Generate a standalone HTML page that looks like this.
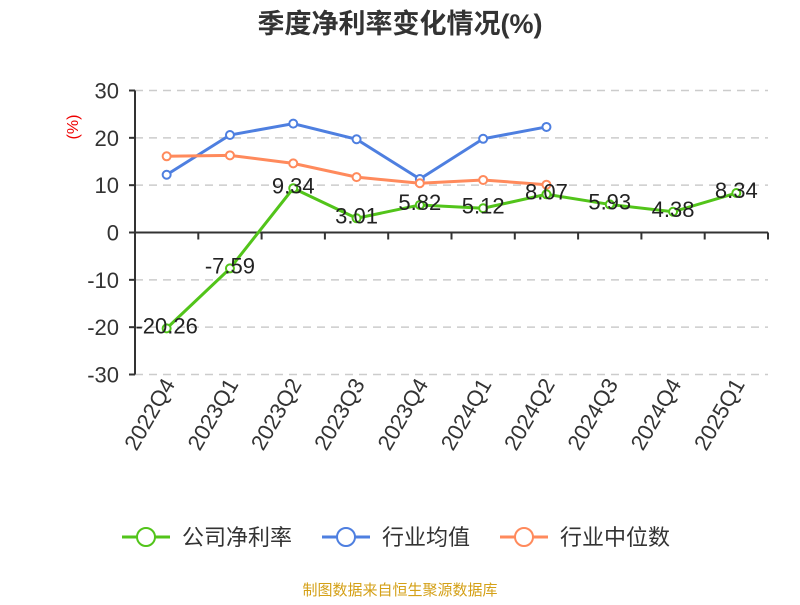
<!DOCTYPE html>
<html><head><meta charset="utf-8"><style>
body{margin:0;background:#fff;}
svg text{font-family:"Liberation Sans","Noto Sans CJK SC",sans-serif;}
</style></head><body>
<svg id="chart" width="800" height="600">
<text x="400" y="33" text-anchor="middle" font-size="27" font-weight="bold" fill="#333">季度净利率变化情况(%)</text>
<text x="78" y="127" font-size="16" fill="#e00" transform="rotate(-90 78 127)" text-anchor="middle">(%)</text>
<g id="grid"></g><g id="axes"></g><g id="series"></g>
<g>
<g><line x1="122" y1="537" x2="170" y2="537" stroke="#52c41a" stroke-width="3"/><circle cx="146" cy="537" r="9" fill="#fff" stroke="#52c41a" stroke-width="2"/><text x="182" y="545" font-size="22" fill="#333">公司净利率</text></g>
<g><line x1="322" y1="537" x2="370" y2="537" stroke="#4e7fe0" stroke-width="3"/><circle cx="346" cy="537" r="9" fill="#fff" stroke="#4e7fe0" stroke-width="2"/><text x="382" y="545" font-size="22" fill="#333">行业均值</text></g>
<g><line x1="500" y1="537" x2="548" y2="537" stroke="#ff8a5c" stroke-width="3"/><circle cx="524" cy="537" r="9" fill="#fff" stroke="#ff8a5c" stroke-width="2"/><text x="560" y="545" font-size="22" fill="#333">行业中位数</text></g>
</g>
<text x="400" y="595" text-anchor="middle" font-size="15" fill="#d4a017">制图数据来自恒生聚源数据库</text>
</svg>
<script>
const categories=["2022Q4","2023Q1","2023Q2","2023Q3","2023Q4","2024Q1","2024Q2","2024Q3","2024Q4","2025Q1"];
const company=[-20.26,-7.59,9.34,3.01,5.82,5.12,8.07,5.93,4.38,8.34];
const industryAvg=[12.2,20.6,23.0,19.7,11.3,19.8,22.3,null,null,null];
const industryMedian=[16.1,16.3,14.6,11.7,10.4,11.1,10.1,null,null,null];
const yTicks=[30,20,10,0,-10,-20,-30];
const NS="http://www.w3.org/2000/svg";
const x0=135,x1=768,yTop=90.5,yBot=374.5;
const bw=(x1-x0)/categories.length;
const xs=i=>x0+bw*(i+0.5);
const ys=v=>yTop+(30-v)/60*(yBot-yTop);
function mk(t,a,p){const e=document.createElementNS(NS,t);for(const k in a)e.setAttribute(k,a[k]);p.appendChild(e);return e;}
const grid=document.getElementById('grid'),axes=document.getElementById('axes'),ser=document.getElementById('series');
yTicks.forEach(v=>{
 if(v!==0){const l=mk('line',{x1:x0,x2:x1,y1:ys(v),y2:ys(v),stroke:'#ccc','stroke-dasharray':'8,6','stroke-width':1.5},grid);
 }
 const t=mk('text',{x:x0-16,y:ys(v)+8,'text-anchor':'end','font-size':22,fill:'#333'},axes);t.textContent=v;
 
 mk('line',{x1:x0-6,x2:x0,y1:ys(v),y2:ys(v),stroke:'#333','stroke-width':2},axes);
});
const ya=mk('line',{x1:x0,x2:x0,y1:yTop,y2:yBot,stroke:'#333','stroke-width':2},axes);

const xa=mk('line',{x1:x0,x2:x1,y1:ys(0),y2:ys(0),stroke:'#333','stroke-width':2},axes);

for(let i=0;i<=categories.length;i++)mk('line',{x1:x0+bw*i,x2:x0+bw*i,y1:ys(0),y2:ys(0)+7,stroke:'#333','stroke-width':2},axes);
categories.forEach((c,i)=>{const px=xs(i)+9,py=384;
 const t=mk('text',{x:px,y:py,'text-anchor':'end','font-size':22,fill:'#333',transform:`rotate(-60 ${px} ${py})`},axes);t.textContent=c;
 });
function series(d,color,name,labels){
 const pts=d.map((v,i)=>v==null?null:[xs(i),ys(v)]).filter(p=>p);
 const pl=mk('polyline',{points:pts.map(p=>p.join(',')).join(' '),fill:'none',stroke:color,'stroke-width':3},ser);
 
 d.forEach((v,i)=>{if(v==null)return;
  const c=mk('circle',{cx:xs(i),cy:ys(v),r:4,fill:'#fff',stroke:color,'stroke-width':2},ser);
  
  if(labels){const t=mk('text',{x:xs(i),y:ys(v)+5,'text-anchor':'middle','font-size':22,fill:'#222'},ser);t.textContent=v.toFixed(2);
   }
 });
}
series(industryAvg,'#4e7fe0','industry-avg',false);
series(industryMedian,'#ff8a5c','industry-median',false);
series(company,'#52c41a','company',true);
</script>
</body></html>
